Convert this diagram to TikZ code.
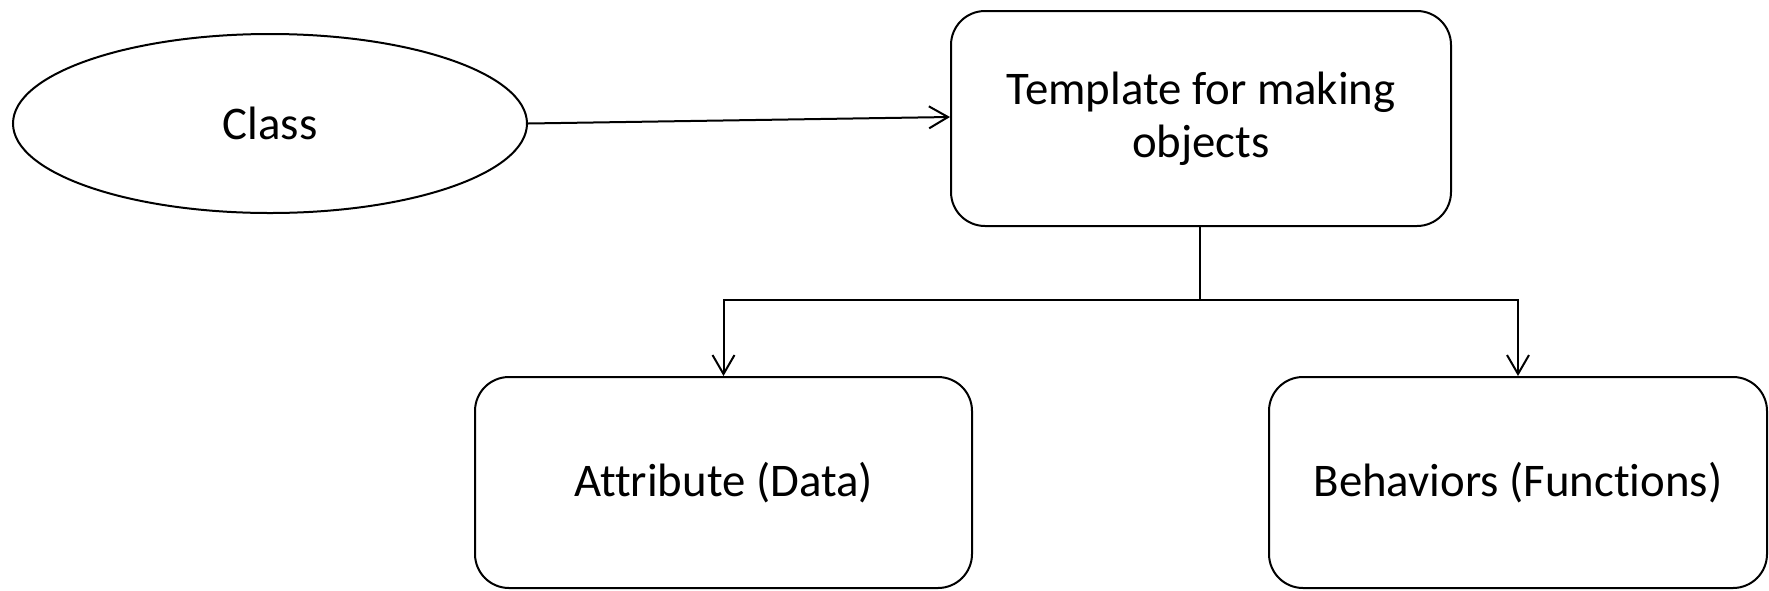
\documentclass[tikz,border=0pt]{standalone}
\usepackage{fontspec}
\setmainfont{Carlito}[Ligatures=NoCommon]
\usetikzlibrary{arrows.meta,shapes.geometric}
\begin{document}
\begin{tikzpicture}[x=1pt,y=-1pt,
  every node/.style={font=\fontsize{46.8}{53}\selectfont, line width=2pt, inner sep=0pt},
  rbox/.style={draw, rounded corners=34pt, align=center},
  conn/.style={line width=2pt, -{Straight Barb[length=19pt,width=22pt,line width=2pt]}}]
\useasboundingbox (0,0) rectangle (1769,590);
\node[draw, ellipse, minimum width=514pt, minimum height=179pt] (class) at (270,123.5) {Class};
\node[rbox, minimum width=500pt, minimum height=215pt] (tmpl) at (1201,118.5) {Template for making\\objects};
\node[rbox, minimum width=497pt, minimum height=211pt] (attr) at (723.5,482.5) {Attribute (Data)};
\node[rbox, minimum width=498pt, minimum height=211pt] (beh) at (1518,482.5) {Behaviors (Functions)};
\coordinate (j) at (1200,300);
\draw[conn] (class.east) -- (tmpl.west |- 0,117);
\draw[line width=2pt] (tmpl.south -| j) -- (j);
\draw[conn] (j) -- (attr.north |- j) -- (attr.north);
\draw[conn] (j) -- (beh.north |- j) -- (beh.north);
\end{tikzpicture}
\end{document}
